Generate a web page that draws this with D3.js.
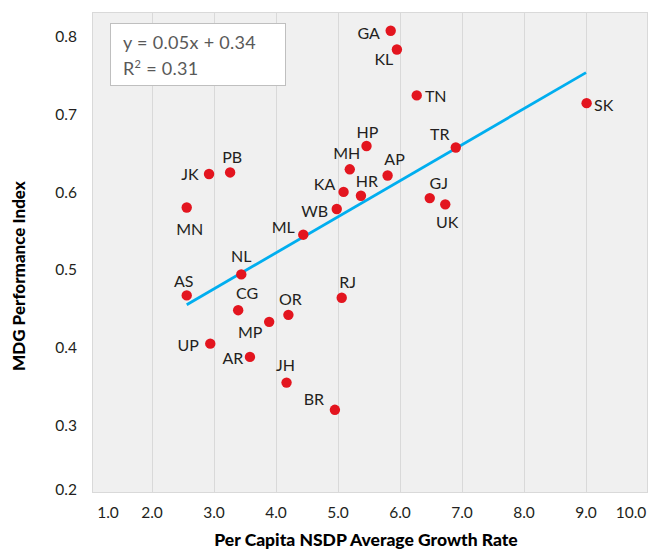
<!DOCTYPE html>
<html>
<head>
<meta charset="utf-8">
<script src="https://cdn.jsdelivr.net/npm/d3@7"></script>
<style>
  body { margin: 0; background: #fff; }
  svg { display: block; font-family: Lato, "Open Sans", sans-serif; }
</style>
</head>
<body>
<svg id="chart" width="649" height="553"></svg>
<script>
// state codes, growth rate (x) and MDG index (y)
let states = ['JK','PB','MN','ML','NL','WB','KA','HR','MH','HP','AP','TR','GJ','UK','GA','KL','TN','SK','AS','CG','OR','MP','UP','AR','JH','BR','RJ']
let growth = [2.92,3.26,2.56,4.44,3.44,4.98,5.09,5.37,5.19,5.46,5.80,6.90,6.48,6.73,5.85,5.95,6.27,9.01,2.56,3.39,4.20,3.89,2.94,3.58,4.17,4.95,5.06]
let mdgIndex = [0.624,0.626,0.581,0.546,0.495,0.579,0.601,0.596,0.630,0.660,0.622,0.658,0.593,0.585,0.808,0.784,0.725,0.715,0.468,0.449,0.443,0.434,0.406,0.389,0.356,0.321,0.465]

let xTicks = [1,2,3,4,5,6,7,8,9,10]
let yTicks = [0.2,0.3,0.4,0.5,0.6,0.7,0.8]
let gridX = [2,3,4,5,6,7,8,9]

// fitted line as drawn (label says y = 0.05x + 0.34, R2 = 0.31)
let trendSlope = 0.0463
let trendIntercept = 0.3375
let trendRange = [2.56, 9.0]
let eqLines = ['y = 0.05x + 0.34', 'R2 = 0.31']

// label offsets from each dot (layout only)
let labelPos = {
  JK:[-19,0], PB:[2,-15], MN:[3,22], ML:[-20,-7], NL:[0,-18], WB:[-22,2],
  KA:[-19,-8], HR:[6,-15], MH:[-3,-16], HP:[1,-14], AP:[7,-16], TR:[-16,-13],
  GJ:[9,-15], UK:[2,18], GA:[-22,2], KL:[-13,10], TN:[19,1], SK:[17,2],
  AS:[-3,-14], CG:[9,-17], OR:[2,-16], MP:[-19,10], UP:[-22,2], AR:[-17,1],
  JH:[-1,-17], BR:[-21,-11], RJ:[6,-16]
}

let data = states.map((s, i) => ({ code: s, x: growth[i], y: mdgIndex[i] }))

let plot = { left: 92, top: 12, right: 647, bottom: 492 }
let x = d3.scaleLinear().domain([1, 10]).range([90, 648])
let y = d3.scaleLinear().domain([0.2, 0.8]).range([504, 37])

const svg = d3.select('#chart')

// plot background + frame
svg.append('rect')
  .attr('x', plot.left + 0.5).attr('y', plot.top + 0.5)
  .attr('width', plot.right - plot.left).attr('height', plot.bottom - plot.top)
  .attr('fill', '#f0f0f0')
  .attr('stroke', '#d9d9d9')

// vertical grid lines
svg.append('g')
  .selectAll('line')
  .data(gridX)
  .join('line')
    .attr('x1', d => Math.round(x(d)) + 0.5)
    .attr('x2', d => Math.round(x(d)) + 0.5)
    .attr('y1', plot.top)
    .attr('y2', plot.bottom)
    .attr('stroke', '#d9d9d9')

// x axis labels (end labels pulled inward like the original)
let xAxis = g => g
  .attr('transform', `translate(0,${plot.bottom})`)
  .call(d3.axisBottom(x).tickValues(xTicks).tickSize(0).tickPadding(15).tickFormat(d3.format('.1f')))
  .call(g => g.select('.domain').remove())
  .call(g => g.selectAll('.tick')
    .attr('transform', d => `translate(${Math.min(Math.max(x(d), 108), 631)},0)`))

let yAxis = g => g
  .attr('transform', 'translate(77,0)')
  .call(d3.axisLeft(y).tickValues(yTicks).tickSize(0).tickPadding(0).tickFormat(d3.format('.1f')))
  .call(g => g.select('.domain').remove())
  .call(g => g.selectAll('.tick')
    .attr('transform', d => `translate(0,${Math.min(y(d), 490)})`))

svg.append('g').call(xAxis)
svg.append('g').call(yAxis)

svg.selectAll('.tick text')
  .attr('font-family', 'Lato, sans-serif')
  .attr('font-size', 15.5)
  .attr('fill', '#231f20')

// trend line
svg.append('line')
  .attr('x1', x(trendRange[0]))
  .attr('y1', y(trendSlope * trendRange[0] + trendIntercept))
  .attr('x2', x(trendRange[1]))
  .attr('y2', y(trendSlope * trendRange[1] + trendIntercept))
  .attr('stroke', '#00aeef')
  .attr('stroke-width', 2.8)

// points
svg.append('g')
  .selectAll('circle')
  .data(data)
  .join('circle')
    .attr('cx', d => x(d.x))
    .attr('cy', d => y(d.y))
    .attr('r', 5.2)
    .attr('fill', '#e3151f')

// point labels
svg.append('g')
  .attr('font-size', 16)
  .attr('fill', '#231f20')
  .attr('text-anchor', 'middle')
  .selectAll('text')
  .data(data)
  .join('text')
    .attr('x', d => x(d.x) + labelPos[d.code][0])
    .attr('y', d => y(d.y) + labelPos[d.code][1])
    .attr('dy', '0.36em')
    .text(d => d.code)

// equation box
let eq = svg.append('g')
eq.append('rect')
  .attr('x', 110.5).attr('y', 23.5)
  .attr('width', 175).attr('height', 62)
  .attr('fill', '#fff')
  .attr('stroke', '#bfbfbf')
let eqText = eq.append('text')
  .attr('font-size', 18)
  .attr('letter-spacing', 0.3)
  .attr('fill', '#595959')
eqText.append('tspan').attr('x', 123).attr('y', 49).text(eqLines[0])
let t2 = eqText.append('tspan').attr('x', 123).attr('y', 75)
t2.append('tspan').text('R')
t2.append('tspan').attr('dy', -7).attr('font-size', 11).text('2')
t2.append('tspan').attr('dy', 7).text(' = 0.31')

// axis titles
svg.append('text')
  .attr('x', 366).attr('y', 546)
  .attr('text-anchor', 'middle')
  .attr('font-size', 17.5)
  .attr('font-weight', 900)
  .attr('fill', '#000')
  .text('Per Capita NSDP Average Growth Rate')

svg.append('text')
  .attr('transform', 'translate(25,276) rotate(-90)')
  .attr('text-anchor', 'middle')
  .attr('font-size', 17)
  .attr('font-weight', 900)
  .attr('fill', '#000')
  .text('MDG Performance Index')
</script>
</body>
</html>
